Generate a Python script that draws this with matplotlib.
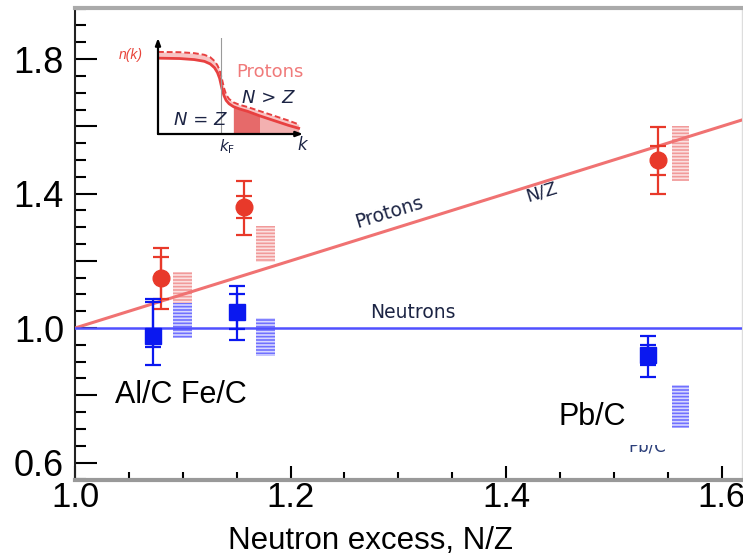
"""
Ratio of high-momentum protons and neutrons vs neutron excess N/Z
"""

import matplotlib
matplotlib.use('Agg')
import matplotlib.pyplot as plt
from matplotlib.patches import Rectangle
from matplotlib.ticker import FixedLocator, MultipleLocator

# nucleus labels and N/Z positions
nuclei = ['Al/C', 'Fe/C', 'Pb/C']
x_prot = [1.080, 1.157, 1.541]
x_neut = [1.072, 1.150, 1.532]

# protons: value, total error range, statistical error range
p_val = [1.149, 1.360, 1.500]
p_tot_lo = [1.057, 1.277, 1.399]
p_tot_hi = [1.238, 1.437, 1.598]
p_stat_lo = [1.086, 1.327, 1.455]
p_stat_hi = [1.210, 1.393, 1.542]

# neutrons
n_val = [0.976, 1.048, 0.920]
n_tot_lo = [0.890, 0.964, 0.854]
n_tot_hi = [1.086, 1.125, 0.976]
n_stat_lo = [0.945, 0.997, 0.890]
n_stat_hi = [1.077, 1.101, 0.950]

# calculation bands
band_x = [1.100, 1.177, 1.562]
band_w = [0.018, 0.018, 0.016]
band_p_lo = [1.074, 1.196, 1.438]
band_p_hi = [1.167, 1.304, 1.601]
band_n_lo = [0.970, 0.917, 0.702]
band_n_hi = [1.074, 1.030, 0.830]

# reference lines
line_x = [1.0, 1.62]
line_p = line_x          # protons scale as N/Z
line_n = [1.0, 1.0]      # neutrons stay at 1

# axis ticks
xticks = [1.0, 1.2, 1.4, 1.6]
xticklabels = ['1.0', '1.2', '1.4', '1.6']
yticks = [0.6, 0.8, 1.0, 1.2, 1.4, 1.6, 1.8]
yticklabels = ['0.6', '', '1.0', '', '1.4', '', '1.8']

# inset: momentum distribution n(k), normalised axes
k_pts = [0.0, 0.15, 0.25, 0.32, 0.36, 0.39, 0.41, 0.425, 0.44, 0.455, 0.47, 0.49, 0.52,
         0.56, 0.62, 0.70, 0.80, 0.90, 0.97]
n_same = [0.790, 0.786, 0.775, 0.757, 0.730, 0.690, 0.640, 0.580, 0.480, 0.400, 0.350,
          0.315, 0.285, 0.262, 0.235, 0.190, 0.140, 0.090, 0.060]
n_more = [0.855, 0.852, 0.842, 0.825, 0.800, 0.760, 0.715, 0.665, 0.580, 0.480, 0.410,
          0.365, 0.330, 0.305, 0.280, 0.240, 0.190, 0.140, 0.100]
k_fermi = 0.434

plt.rcParams['font.family'] = ['Liberation Sans', 'DejaVu Sans']
plt.rcParams['hatch.linewidth'] = 1.2

fig = plt.figure(figsize=(7.43, 5.58), dpi=100)
ax = fig.add_axes([75 / 743, 1 - 480 / 558, 667 / 743, 472 / 558])

red = '#e8392a'
blue = '#0a18f0'
txt = '#1c2444'

# bands
ax.bar(band_x, [h - l for h, l in zip(band_p_hi, band_p_lo)], bottom=band_p_lo, width=band_w,
       color='#f19a9a', edgecolor='#fbe0e0', hatch='-----', linewidth=0, zorder=2)
ax.bar(band_x, [h - l for h, l in zip(band_n_hi, band_n_lo)], bottom=band_n_lo, width=band_w,
       color='#7070ff', edgecolor='#d8d8ff', hatch='-----', linewidth=0, zorder=2)

# reference lines
ax.plot(line_x, line_p, color='#f07272', lw=2.2, zorder=3)
ax.plot(line_x, line_n, color='#5050ff', lw=1.8, zorder=3)

# data points, total and statistical errors
def draw_points(x, v, lo, hi, slo, shi, color, marker):
    ax.errorbar(x, v, yerr=[[a - b for a, b in zip(v, lo)], [b - a for a, b in zip(v, hi)]],
                fmt='none', ecolor=color, elinewidth=1.6, capsize=6, capthick=1.6, zorder=4)
    ax.errorbar(x, v, yerr=[[a - b for a, b in zip(v, slo)], [b - a for a, b in zip(v, shi)]],
                fmt='none', ecolor=color, elinewidth=1.6, capsize=6, capthick=1.6, zorder=4)
    ax.plot(x, v, linestyle='none', marker=marker, color=color, markersize=12, zorder=5)

draw_points(x_prot, p_val, p_tot_lo, p_tot_hi, p_stat_lo, p_stat_hi, red, 'o')
draw_points(x_neut, n_val, n_tot_lo, n_tot_hi, n_stat_lo, n_stat_hi, blue, 's')

# line labels
ax.text(1.292, 1.345, 'Protons', rotation=17, fontsize=13.5, color=txt, family='DejaVu Sans',
        ha='center', va='center')
ax.text(1.433, 1.405, 'N/Z', rotation=17, fontsize=13, color=txt, family='DejaVu Sans',
        ha='center', va='center')
ax.text(1.314, 1.045, 'Neutrons', fontsize=13.5, color=txt, family='DejaVu Sans',
        ha='center', va='center')

# nucleus labels
ax.text(1.037, 0.80, nuclei[0] + ' ' + nuclei[1], fontsize=22, ha='left', va='center', zorder=6)
ax.text(1.531, 0.649, nuclei[2], fontsize=12, color='#2b3f7a', family='DejaVu Sans',
        ha='center', va='center', zorder=5)
ax.add_patch(Rectangle((1.44, 0.652), 0.113, 0.16, facecolor='white', edgecolor='none', zorder=6))
ax.text(1.449, 0.735, nuclei[2], fontsize=22, ha='left', va='center', zorder=7)

ax.set_xlim(1.0, 1.619)
ax.set_ylim(0.548, 1.952)

ax.xaxis.set_major_locator(FixedLocator(xticks))
ax.set_xticklabels(xticklabels)
ax.xaxis.set_minor_locator(MultipleLocator(0.05))
ax.yaxis.set_major_locator(FixedLocator(yticks))
ax.set_yticklabels(yticklabels)
ax.yaxis.set_minor_locator(MultipleLocator(0.05))

ax.tick_params(axis='x', which='major', direction='in', length=10, width=1.5, labelsize=25, pad=1)
ax.tick_params(axis='x', which='minor', direction='in', length=6, width=1.5)
ax.tick_params(axis='y', which='major', direction='in', length=16, width=1.5, labelsize=26, pad=8)
ax.tick_params(axis='y', which='minor', direction='in', length=8, width=1.5)

ax.spines['left'].set_color('#222222')
ax.spines['left'].set_linewidth(1.5)
ax.spines['bottom'].set_color('#999999')
ax.spines['bottom'].set_linewidth(3)
ax.spines['top'].set_color('#aaaaaa')
ax.spines['top'].set_linewidth(3)
ax.spines['right'].set_color('#dddddd')
ax.spines['right'].set_linewidth(1)

fig.text(371 / 743, 1 - 541 / 558, 'Neutron excess, N/Z', fontsize=22.5, ha='center', va='center')

# inset with the momentum distribution sketch
ins = fig.add_axes([158 / 743, 1 - 134 / 558, 145 / 743, 96 / 558])
ins.set_xlim(0, 1)
ins.set_ylim(0, 1)
ins.axis('off')
ins.fill_between(k_pts, n_same, n_more, color='#f8c4c4', lw=0)
k_tail = [k for k in k_pts if k >= 0.52]
n_tail = n_same[len(k_pts) - len(k_tail):]
ins.fill_between(k_tail, 0, n_tail, color='#f3b0b0', lw=0)
k_dark = [k for k in k_tail if k <= 0.70]
ins.fill_between(k_dark, 0, n_tail[:len(k_dark)], color='#e66a6a', lw=0)
ins.plot(k_pts, n_same, color='#e84040', lw=2)
ins.plot(k_pts, n_more, color='#e84040', lw=1.4, linestyle=(0, (3, 1.5)))
ins.plot([k_fermi, k_fermi], [0, 1], color='#9a9a9a', lw=0.8)
ins.annotate('', xy=(0, 1.0), xytext=(0, 0), xycoords='axes fraction',
             arrowprops=dict(arrowstyle='-|>,head_length=0.4,head_width=0.15', color='black', lw=1.6,
                             shrinkA=0, shrinkB=0))
ins.annotate('', xy=(1.0, 0), xytext=(0, 0), xycoords='axes fraction',
             arrowprops=dict(arrowstyle='-|>,head_length=0.4,head_width=0.15', color='black', lw=1.6,
                             shrinkA=0, shrinkB=0))
ins.text(-0.186, 0.823, 'n(k)', color='#e8443a', style='italic', fontsize=10,
         ha='center', va='center')
ins.text(0.772, 0.646, 'Protons', color='#f07a7a', fontsize=13, family='DejaVu Sans',
         ha='center', va='center')
ins.text(0.759, 0.375, 'N > Z', color=txt, style='italic', fontsize=13, family='DejaVu Sans',
         ha='center', va='center')
ins.text(0.29, 0.146, 'N = Z', color=txt, style='italic', fontsize=13, family='DejaVu Sans',
         ha='center', va='center')
ins.text(0.476, -0.13, r'$\it{k}_{\rm F}$', color=txt, fontsize=11, ha='center', va='center')
ins.text(1.0, -0.10, r'$\it{k}$', color=txt, fontsize=12, ha='center', va='center')

fig.savefig('out.png', dpi=100)
